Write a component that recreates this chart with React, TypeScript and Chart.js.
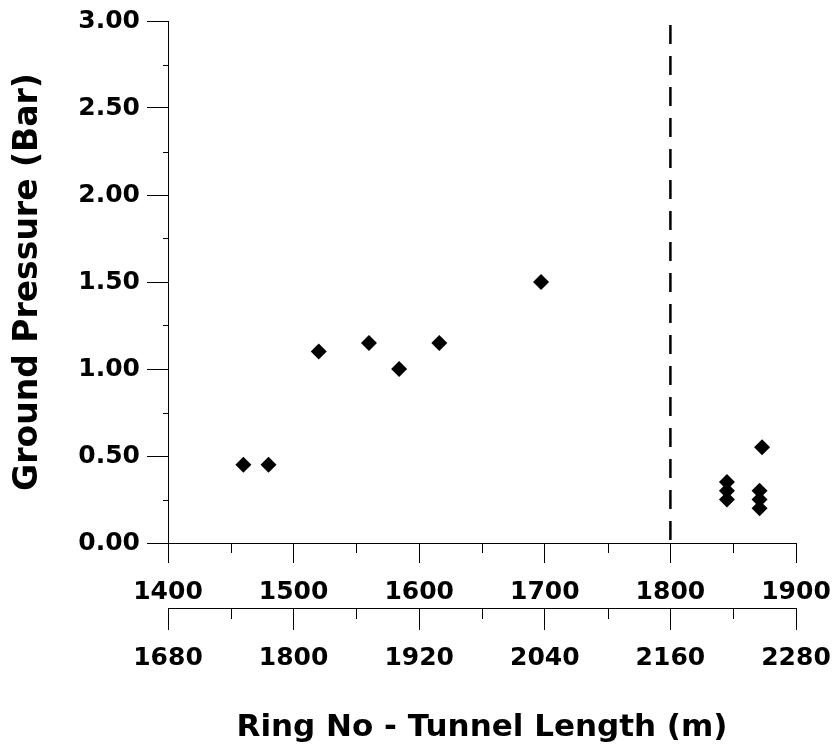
import React, { useEffect, useRef } from "react";
import { Chart, registerables } from "chart.js";

Chart.register(...registerables);

const ringNo = [1460, 1480, 1520, 1560, 1584, 1616, 1697, 1845, 1845, 1845, 1871, 1871, 1871, 1873];
const groundPressure = [0.45, 0.45, 1.1, 1.15, 1.0, 1.15, 1.5, 0.35, 0.3, 0.25, 0.3, 0.25, 0.2, 0.55];
const markerRing = [1800, 1800];
const markerPressure = [3.0, 0.0];
const yTicks = [0, 0.5, 1.0, 1.5, 2.0, 2.5, 3.0];
const ringTicks = [1400, 1500, 1600, 1700, 1800, 1900];
const lengthTicks = [1680, 1800, 1920, 2040, 2160, 2280];

const FONT = "'DejaVu Sans', 'Liberation Sans', Arial, sans-serif";

const minorTicks = {
  id: "minorTicks",
  afterDraw(chart: any) {
    const ctx = chart.ctx;
    const y = chart.scales.y;
    const x = chart.scales.x;
    const x2 = chart.scales.x2;
    ctx.save();
    ctx.strokeStyle = "#000";
    ctx.lineWidth = 1;
    ctx.beginPath();
    for (let i = 0; i < yTicks.length - 1; i++) {
      const v = (yTicks[i] + yTicks[i + 1]) / 2;
      const py = Math.round(y.getPixelForValue(v)) + 0.5;
      ctx.moveTo(y.right - 5, py);
      ctx.lineTo(y.right, py);
    }
    for (let i = 0; i < ringTicks.length - 1; i++) {
      const v = (ringTicks[i] + ringTicks[i + 1]) / 2;
      const px = Math.round(x.getPixelForValue(v)) + 0.5;
      ctx.moveTo(px, x.top);
      ctx.lineTo(px, x.top + 10);
    }
    for (let i = 0; i < lengthTicks.length - 1; i++) {
      const v = (lengthTicks[i] + lengthTicks[i + 1]) / 2;
      const px = Math.round(x2.getPixelForValue(v)) + 0.5;
      ctx.moveTo(px, x2.top);
      ctx.lineTo(px, x2.top + 11);
    }
    ctx.stroke();
    ctx.restore();
  },
};

const noSidePadding = (s: any) => {
  s.paddingLeft = 0;
  s.paddingRight = 0;
};

export default function App() {
  const ref = useRef<HTMLCanvasElement>(null);
  useEffect(() => {
    document.body.style.margin = "0";
    const canvas = ref.current!;
    const chart = new Chart(canvas, {
      type: "scatter",
      data: {
        datasets: [
          {
            data: ringNo.map((r, i) => ({ x: r, y: groundPressure[i] })),
            pointStyle: "rectRot",
            pointRadius: 8,
            pointHoverRadius: 8,
            backgroundColor: "#000",
            borderColor: "#000",
            borderWidth: 0,
          },
          {
            type: "line",
            data: markerRing.map((r, i) => ({ x: r, y: markerPressure[i] })),
            borderColor: "#000",
            borderWidth: 2.5,
            borderDash: [19, 12],
            borderDashOffset: 27,
            pointRadius: 0,
            fill: false,
          } as any,
        ],
      },
      options: {
        animation: false,
        responsive: false,
        events: [],
        layout: { padding: { top: 21, right: 36, left: 0, bottom: 0 } },
        plugins: { legend: { display: false }, tooltip: { enabled: false } },
        scales: {
          y: {
            type: "linear",
            min: 0,
            max: 3,
            afterBuildTicks: (s: any) => {
              s.ticks = yTicks.map((v) => ({ value: v }));
            },
            afterFit: (s: any) => {
              s.width = 168;
              s.paddingTop = 0;
              s.paddingBottom = 0;
            },
            ticks: {
              color: "#000",
              font: { family: FONT, size: 25, weight: "bold" },
              padding: 7,
              callback: (v: any) => Number(v).toFixed(2),
            },
            grid: { drawOnChartArea: false, tickLength: 21, color: "#000", tickColor: "#000" },
            border: { display: true, color: "#000", width: 1 },
            title: {
              display: true,
              text: "Ground Pressure (Bar)",
              color: "#000",
              font: { family: FONT, size: 33, weight: "bold" },
              padding: { top: 9, bottom: 0 },
            },
          },
          x: {
            type: "linear",
            position: "bottom",
            weight: 1,
            min: 1400,
            max: 1900,
            afterBuildTicks: (s: any) => {
              s.ticks = ringTicks.map((v) => ({ value: v }));
            },
            afterFit: (s: any) => {
              s.height = 65;
              noSidePadding(s);
            },
            ticks: {
              color: "#000",
              font: { family: FONT, size: 25, weight: "bold" },
              padding: 14,
              maxRotation: 0,
              callback: (v: any) => String(v),
            },
            grid: { drawOnChartArea: false, tickLength: 20, color: "#000", tickColor: "#000" },
            border: { display: true, color: "#000", width: 1 },
          },
          x2: {
            type: "linear",
            position: "bottom",
            weight: 2,
            min: 1680,
            max: 2280,
            afterBuildTicks: (s: any) => {
              s.ticks = lengthTicks.map((v) => ({ value: v }));
            },
            afterFit: (s: any) => {
              s.height = 143;
              noSidePadding(s);
            },
            ticks: {
              color: "#000",
              font: { family: FONT, size: 25, weight: "bold" },
              padding: 13,
              maxRotation: 0,
              callback: (v: any) => String(v),
            },
            grid: { drawOnChartArea: false, tickLength: 22, color: "#000", tickColor: "#000" },
            border: { display: true, color: "#000", width: 1 },
            title: {
              display: true,
              text: "Ring No - Tunnel Length (m)",
              color: "#000",
              font: { family: FONT, size: 31, weight: "bold" },
              padding: { top: 0, bottom: 4 },
            },
          },
        },
      },
      plugins: [minorTicks],
    });
    return () => chart.destroy();
  }, []);
  return <canvas ref={ref} width={832} height={751} style={{ display: "block" }} />;
}
